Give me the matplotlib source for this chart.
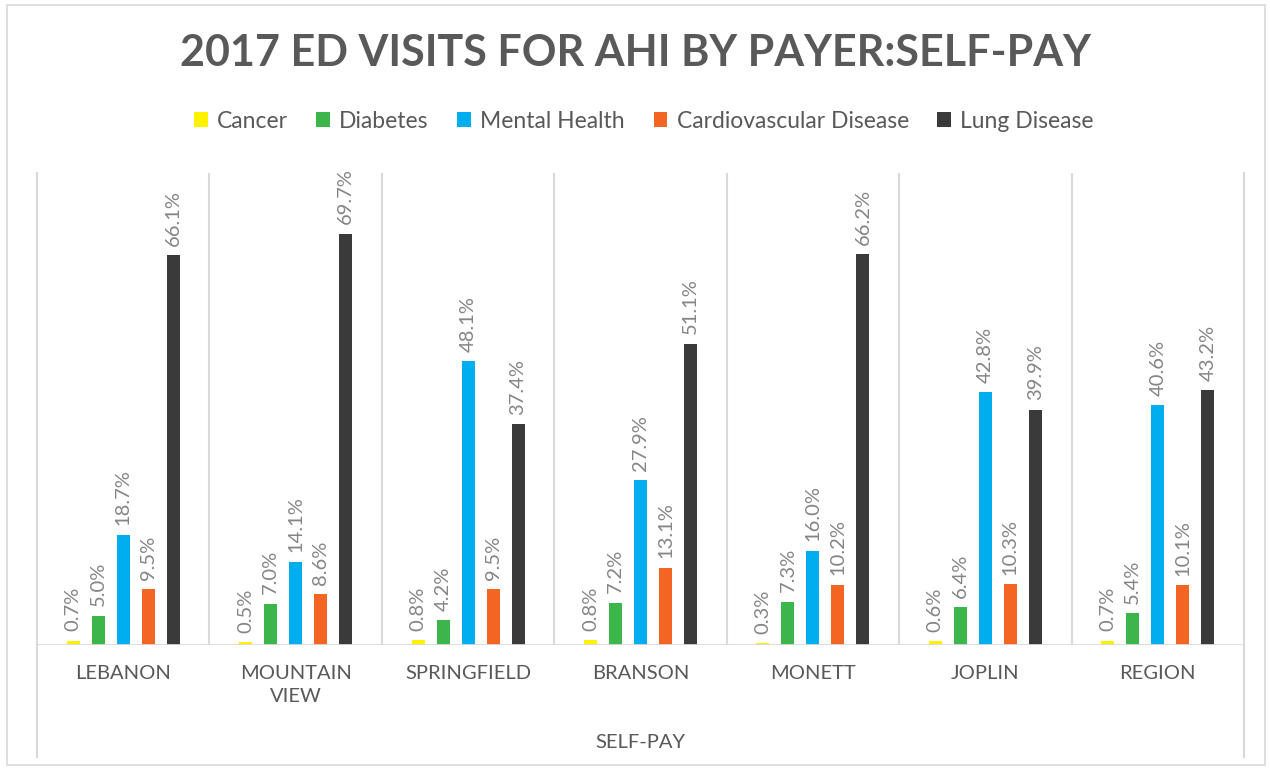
import matplotlib.pyplot as plt
from matplotlib.patches import Rectangle
from matplotlib.lines import Line2D
import numpy as np

# ── Data ──────────────────────────────────────────────────────────────────────
LOCATIONS = ["LEBANON", "MOUNTAIN\nVIEW", "SPRINGFIELD", "BRANSON",
             "MONETT", "JOPLIN", "REGION"]
SERIES = ["Cancer", "Diabetes", "Mental Health",
          "Cardiovascular Disease", "Lung Disease"]

CANCER = [0.7, 0.5, 0.8, 0.8, 0.3, 0.6, 0.7]
DIABETES = [5.0, 7.0, 4.2, 7.2, 7.3, 6.4, 5.4]
MENTAL = [18.7, 14.1, 48.1, 27.9, 16.0, 42.8, 40.6]
CARDIO = [9.5, 8.6, 9.5, 13.1, 10.2, 10.3, 10.1]
LUNG = [66.1, 69.7, 37.4, 51.1, 66.2, 39.9, 43.2]

# ── Style ─────────────────────────────────────────────────────────────────────
COLORS = ["#FFF200", "#3CB54A", "#00AEEF", "#F26522", "#3A3A3A"]
TEXT_DARK = "#595959"
LABEL_GRAY = "#858585"
GRID = "#D9D9D9"
FONT = "Lato"

plt.rcParams["font.family"] = [FONT, "DejaVu Sans"]

fig = plt.figure(figsize=(12.7, 7.68), dpi=100)
W, H = 1270, 768

# outer chart frame
fig.patches.append(Rectangle((7 / W, 3 / H), 1258 / W, 760 / H,
                             transform=fig.transFigure, fill=False,
                             edgecolor="#D9D9D9", linewidth=1.2))

ax = fig.add_axes([37 / W, 1 - 645 / H, (1244 - 37) / W, (645 - 173) / H])
n = len(LOCATIONS)
ax.set_xlim(0, n)
ax.set_ylim(0, 80)

pitch = 0.145
width = 0.076
data = [CANCER, DIABETES, MENTAL, CARDIO, LUNG]
x = np.arange(n) + 0.5
for k, (vals, color) in enumerate(zip(data, COLORS)):
    xs = x + (k - 2) * pitch
    ax.bar(xs, vals, width=width, color=color, zorder=3, label=SERIES[k])
    for xi, v in zip(xs, vals):
        ax.text(xi, v + 1.6, f"{v:.1f}%", rotation=90, ha="center", va="bottom",
                fontsize=14.5, color=LABEL_GRAY, zorder=4)

# group separators
for b in range(1, n):
    ax.axvline(b, color=GRID, linewidth=1.5, zorder=1)
for s in ax.spines.values():
    s.set_visible(False)
ax.axhline(0, color=GRID, linewidth=2, zorder=5)
ax.set_xticks([])
ax.set_yticks([])

# outer separators run down past the category labels
for xf in (37 / W, 1244 / W):
    fig.add_artist(Line2D([xf, xf], [1 - 757 / H, 1 - 173 / H],
                          transform=fig.transFigure, color=GRID, linewidth=1.5))

# category labels
for i, name in enumerate(LOCATIONS):
    xf = (37 + (i + 0.5) * (1244 - 37) / n) / W
    fig.text(xf, 1 - 665 / H, name, ha="center", va="top", fontsize=14.5,
             color=TEXT_DARK, linespacing=1.4)
fig.text((37 + 1244) / 2 / W, 1 - 742 / H, "SELF-PAY", ha="center",
         va="center", fontsize=14.5, color=TEXT_DARK)

# title
fig.text(0.5, 1 - 53 / H, "2017 ED VISITS FOR AHI BY PAYER:SELF-PAY",
         ha="center", va="center", fontsize=31, fontweight="bold",
         color=TEXT_DARK)

# legend
handles, labels = ax.get_legend_handles_labels()
fig.legend(handles, labels, loc="center", bbox_to_anchor=(0.507, 1 - 121 / H),
           ncol=5, frameon=False, fontsize=16.5, labelcolor=TEXT_DARK,
           handlelength=0.6, handleheight=0.6, handletextpad=0.4,
           columnspacing=1.25)

fig.savefig("out.png", dpi=100)
